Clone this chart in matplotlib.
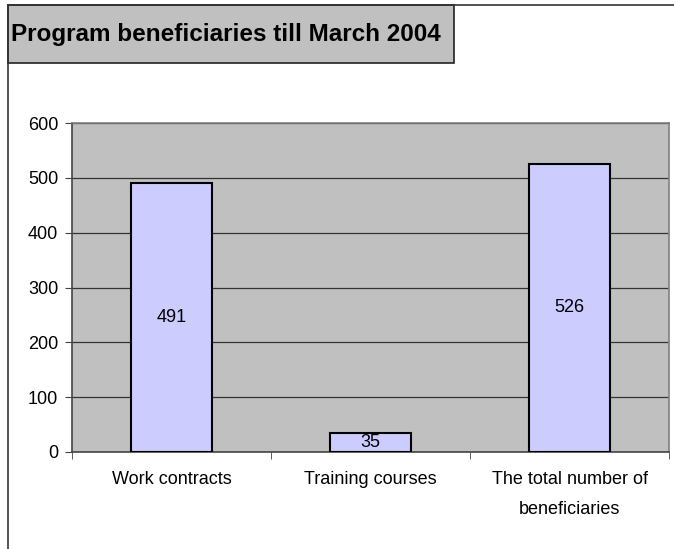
import numpy as np
import matplotlib.pyplot as plt
from matplotlib.patches import Rectangle
from matplotlib.lines import Line2D

# chart values
categories = ['Work contracts', 'Training courses', 'The total number of\nbeneficiaries']
values = [491, 35, 526]
yticks = [0, 100, 200, 300, 400, 500, 600]
title = 'Program beneficiaries till March 2004'

plt.rcParams['font.family'] = ['Liberation Sans', 'DejaVu Sans']

W, H = 674, 549
fig = plt.figure(figsize=(W / 100, H / 100), dpi=100)

# outer frame (top and left edges) and title box
fig.add_artist(Line2D([8 / W, 1], [1 - 5 / H, 1 - 5 / H], color='#333333', lw=1.2))
fig.add_artist(Line2D([8 / W, 8 / W], [0, 1 - 5 / H], color='#333333', lw=1.2))
fig.add_artist(Rectangle((8 / W, 1 - 63 / H), (454 - 8) / W, 58 / H,
                         facecolor='#C0C0C0', edgecolor='#222222', lw=1.2))
fig.text(11 / W, 1 - 35 / H, title, fontsize=17.5, fontweight='bold', va='center', ha='left')

ax = fig.add_axes([72 / W, 97 / H, (669 - 72) / W, (452 - 123) / H])
ax.set_facecolor('#C0C0C0')

x = np.arange(len(categories))
bars = ax.bar(x, values, width=0.41, color='#CCCCFF', edgecolor='black', linewidth=1.5, zorder=3)
for b, v in zip(bars, values):
    ax.text(b.get_x() + b.get_width() / 2, v / 2, str(v), ha='center', va='center', fontsize=13, zorder=4)

ax.set_xlim(-0.5, len(categories) - 0.5)
ax.set_ylim(0, 600)
ax.set_yticks(yticks)
ax.yaxis.grid(True, color='#333333', lw=0.9)
ax.set_axisbelow(True)

ax.set_xticks(x)
ax.set_xticklabels(categories, fontsize=13, linespacing=2.0)
ax.set_xticks(np.arange(len(categories) + 1) - 0.5, minor=True)
ax.tick_params(axis='x', which='major', length=0, pad=14)
ax.tick_params(axis='x', which='minor', length=5, color='#444444', direction='out')
ax.tick_params(axis='y', length=5, color='#444444', labelsize=13, pad=5)

for s in ['top', 'right']:
    ax.spines[s].set_color('#808080')
    ax.spines[s].set_linewidth(1.2)
for s in ['left', 'bottom']:
    ax.spines[s].set_color('#444444')
    ax.spines[s].set_linewidth(1.2)

fig.savefig('out.png', dpi=100)
